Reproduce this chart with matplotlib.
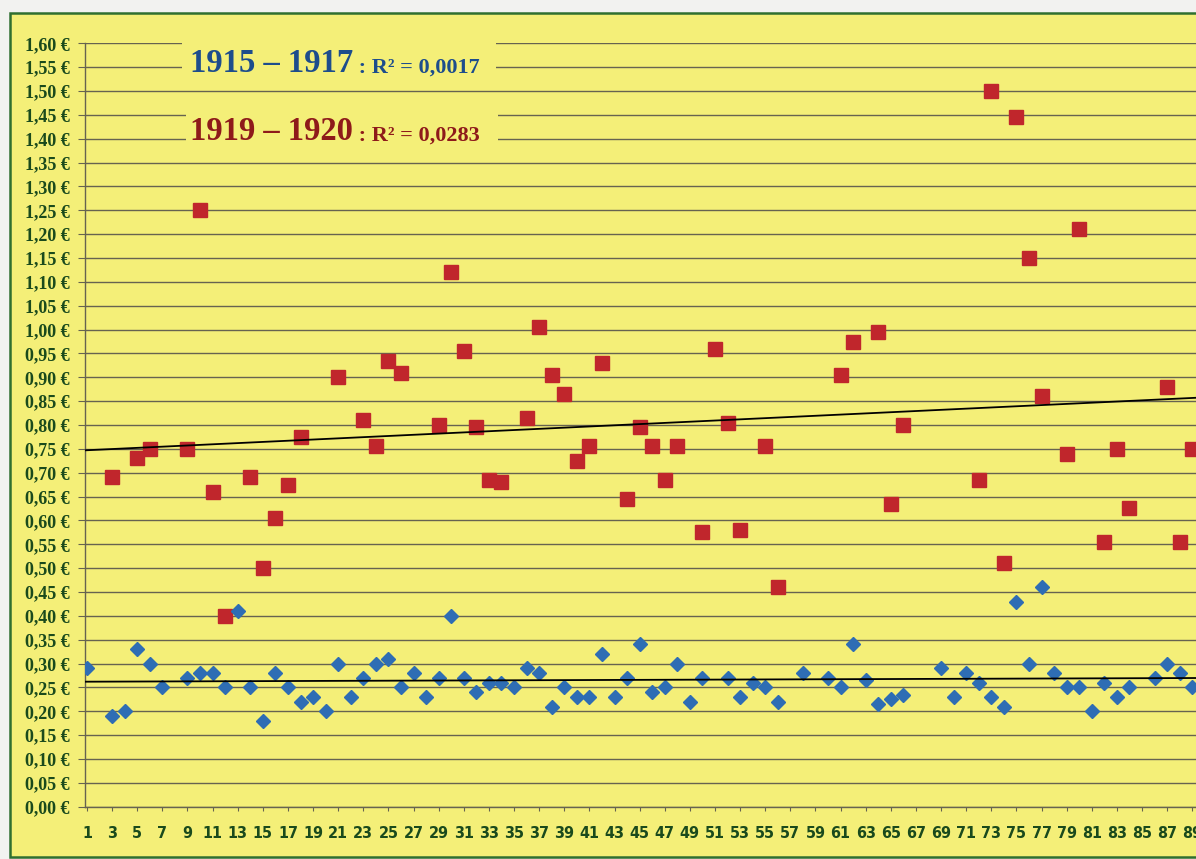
import numpy as np
import matplotlib.pyplot as plt
from matplotlib.patches import Rectangle
from matplotlib.ticker import FuncFormatter

# values (x = position of the item, y = price in euros)
x_1915 = [1, 3, 4, 5, 6, 7, 9, 10, 11, 12, 13, 14, 15, 16, 17, 18, 19, 20, 21, 22,
          23, 24, 25, 26, 27, 28, 29, 30, 31, 32, 33, 34, 35, 36, 37, 38, 39, 40, 41, 42,
          43, 44, 45, 46, 47, 48, 49, 50, 52, 53, 54, 55, 56, 58, 60, 61, 62, 63, 64, 65,
          66, 69, 70, 71, 72, 73, 74, 75, 76, 77, 78, 79, 80, 81, 82, 83, 84, 86, 87, 88, 89]
y_1915 = [0.29, 0.19, 0.20, 0.33, 0.30, 0.25, 0.27, 0.28, 0.28, 0.25, 0.41, 0.25, 0.18, 0.28, 0.25, 0.22, 0.23, 0.20, 0.30, 0.23,
          0.27, 0.30, 0.31, 0.25, 0.28, 0.23, 0.27, 0.40, 0.27, 0.24, 0.26, 0.26, 0.25, 0.29, 0.28, 0.21, 0.25, 0.23, 0.23, 0.32,
          0.23, 0.27, 0.34, 0.24, 0.25, 0.30, 0.22, 0.27, 0.27, 0.23, 0.26, 0.25, 0.22, 0.28, 0.27, 0.25, 0.34, 0.265, 0.215, 0.225,
          0.235, 0.29, 0.23, 0.28, 0.26, 0.23, 0.21, 0.43, 0.30, 0.46, 0.28, 0.25, 0.25, 0.20, 0.26, 0.23, 0.25, 0.27, 0.30, 0.28, 0.25]

x_1919 = [3, 5, 6, 9, 10, 11, 12, 14, 15, 16, 17, 18, 21, 23, 24, 25, 26, 29, 30, 31,
          32, 33, 34, 36, 37, 38, 39, 40, 41, 42, 44, 45, 46, 47, 48, 50, 51, 52, 53, 55,
          56, 61, 62, 64, 65, 66, 72, 73, 74, 75, 76, 77, 79, 80, 82, 83, 84, 87, 88, 89]
y_1919 = [0.69, 0.73, 0.75, 0.75, 1.25, 0.66, 0.40, 0.69, 0.50, 0.605, 0.675, 0.775, 0.90, 0.81, 0.755, 0.935, 0.91, 0.80, 1.12, 0.955,
          0.795, 0.685, 0.68, 0.815, 1.005, 0.905, 0.865, 0.725, 0.755, 0.93, 0.645, 0.795, 0.755, 0.685, 0.755, 0.575, 0.96, 0.805, 0.58, 0.755,
          0.46, 0.905, 0.975, 0.995, 0.635, 0.80, 0.685, 1.50, 0.51, 1.445, 1.15, 0.86, 0.74, 1.21, 0.555, 0.75, 0.625, 0.88, 0.555, 0.75]

label_1915 = '1915 – 1917'
label_1919 = '1919 – 1920'
r2_1915 = ' : R² = 0,0017'
r2_1919 = ' : R² = 0,0283'

yellow = '#f4ef78'
green = '#1a4a1c'
grid_col = '#666350'

fig = plt.figure(figsize=(11.96, 8.59), dpi=100)
fig.patch.set_facecolor('#f2f2f0')
# yellow card with green frame
fig.patches.append(Rectangle((10/1196, 2/859), 1.0, 844/859, transform=fig.transFigure,
                             facecolor=yellow, edgecolor='#2f6f2f', lw=1.8, zorder=-5))

ax = fig.add_axes([85/1196, 1 - 806.7/859, 1 - 85/1196, (806.7 - 43.3)/859])
ax.set_facecolor('none')
ax.set_xlim(0.84, 89.3)
ax.set_ylim(0, 1.60)

ax.set_yticks(np.arange(0, 1.601, 0.05))
ax.yaxis.set_major_formatter(FuncFormatter(lambda v, p: ('%.2f' % v).replace('.', ',') + ' €'))
ax.set_xticks(np.arange(1, 90, 2))

ax.set_axisbelow(True)
ax.grid(axis='y', color=grid_col, lw=1.0)
ax.grid(axis='x', visible=False)
for s in ['top', 'right']:
    ax.spines[s].set_visible(False)
for s in ['left', 'bottom']:
    ax.spines[s].set_color(grid_col)
    ax.spines[s].set_linewidth(1.0)

ax.tick_params(axis='y', length=5, color=grid_col, pad=6, labelcolor=green)
ax.tick_params(axis='x', length=3, color=grid_col, pad=11, labelcolor=green)
for t in ax.get_yticklabels():
    t.set_fontfamily(['Liberation Serif', 'DejaVu Serif'])
    t.set_fontweight('bold')
    t.set_fontsize(13)
for t in ax.get_xticklabels():
    t.set_fontfamily(['Liberation Sans Narrow', 'DejaVu Sans'])
    t.set_fontstretch('condensed')
    t.set_fontweight('bold')
    t.set_fontsize(11.5)

# points
ax.plot(x_1919, y_1919, ls='none', marker='s', ms=9.5, color='#c0262c', zorder=3)
ax.plot(x_1915, y_1915, ls='none', marker='D', ms=7, color='#2e6db4', zorder=3)

# linear trend lines
xs = np.array(ax.get_xlim())
for xx, yy in [(x_1915, y_1915), (x_1919, y_1919)]:
    k, b = np.polyfit(xx, yy, 1)
    ax.plot(xs, k*xs + b, color='black', lw=1.3, zorder=4)

# text labels on yellow boxes hiding the grid
ax.add_patch(Rectangle((8.55, 1.525), 25.0, 0.10, facecolor=yellow, edgecolor='none', zorder=1, clip_on=False))
ax.add_patch(Rectangle((8.9, 1.375), 24.8, 0.10, facecolor=yellow, edgecolor='none', zorder=1, clip_on=False))

serif = ['Liberation Serif', 'DejaVu Serif']
for lab, r2, yb, col in [(label_1915, r2_1915, 1.539, '#1d4d8c'), (label_1919, r2_1919, 1.397, '#8e1a1a')]:
    t1 = ax.text(9.2, yb, lab, color=col, fontsize=23.5, fontweight='bold', family=serif,
                 va='baseline', zorder=5)
    ax.annotate(r2, xy=(1, 0), xycoords=t1, xytext=(0, 1), textcoords='offset points',
                va='bottom', ha='left', color=col, fontsize=16, fontweight='bold', family=serif, zorder=5)

plt.savefig('out.png', dpi=100, facecolor=fig.get_facecolor())
